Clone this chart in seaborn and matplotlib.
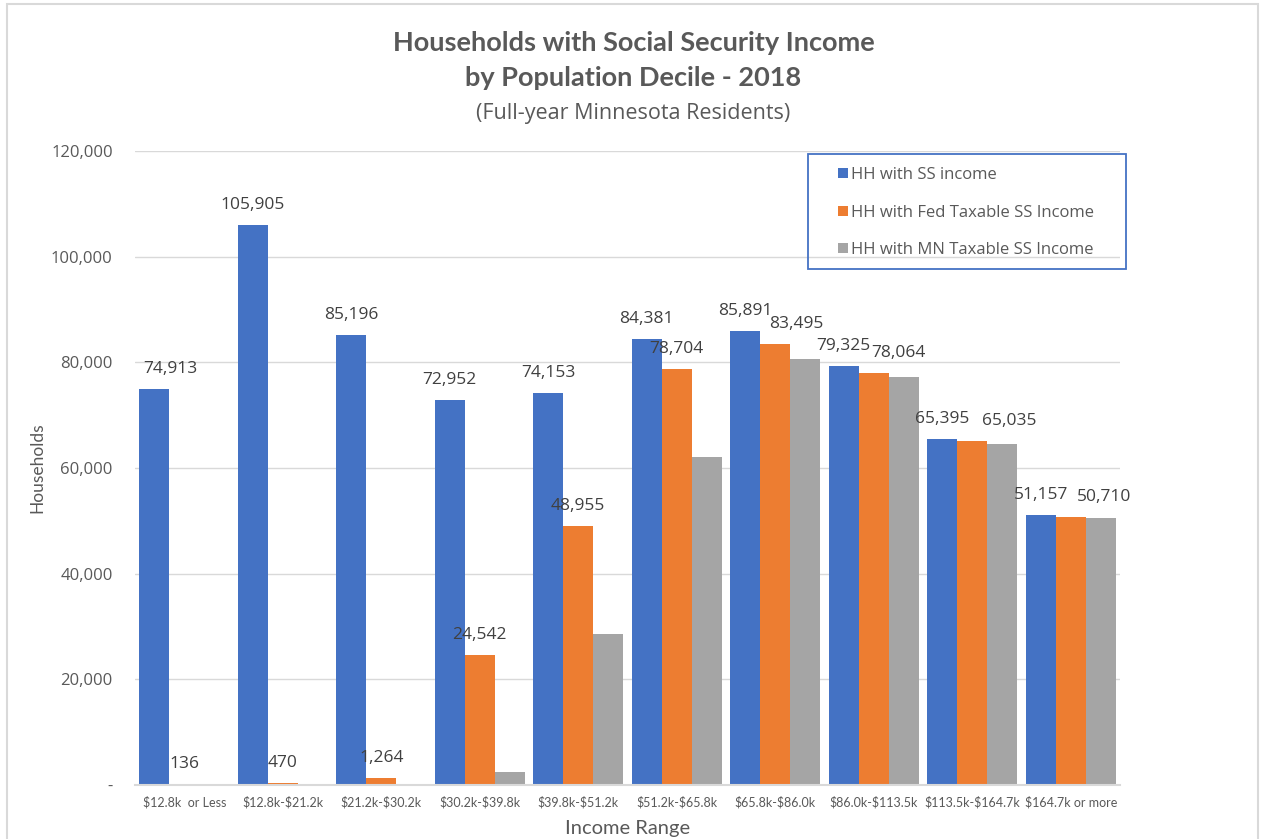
import pandas as pd
import seaborn as sns
import matplotlib.pyplot as plt
from matplotlib.patches import Rectangle

# data
categories = ["$12.8k  or Less", "$12.8k-$21.2k", "$21.2k-$30.2k", "$30.2k-$39.8k",
              "$39.8k-$51.2k", "$51.2k-$65.8k", "$65.8k-$86.0k", "$86.0k-$113.5k",
              "$113.5k-$164.7k", "$164.7k or more"]
hh_ss = [74913, 105905, 85196, 72952, 74153, 84381, 85891, 79325, 65395, 51157]
hh_fed = [136, 470, 1264, 24542, 48955, 78704, 83495, 78064, 65035, 50710]
hh_mn = [30, 200, 250, 2450, 28600, 62100, 80550, 77200, 64550, 50450]  # no labels, estimated
series = ["HH with SS income", "HH with Fed Taxable SS Income", "HH with MN Taxable SS Income"]
colors = ["#4472C4", "#ED7D31", "#A5A5A5"]


def run():
    sns.set_style("white")
    plt.rcParams["font.family"] = ["Lato", "DejaVu Sans"]
    plt.rcParams["text.parse_math"] = False
    osans = ["Open Sans", "DejaVu Sans"]

    df = pd.DataFrame({
        "range": categories * 3,
        "households": hh_ss + hh_fed + hh_mn,
        "series": [s for s in series for _ in categories],
    })

    fig = plt.figure(figsize=(12.67, 8.39), dpi=100)
    W, H = 1267, 839
    ax = fig.add_axes([135 / W, 1 - 785 / H, (1120 - 135) / W, (785 - 151) / H])

    sns.barplot(data=df, x="range", y="households", hue="series", hue_order=series,
                palette=colors, width=0.91, saturation=1, linewidth=0, ax=ax)

    ax.set_ylim(0, 120000)
    ax.set_yticks(range(0, 120001, 20000))
    ax.set_yticklabels(["-"] + [f"{v:,}" for v in range(20000, 120001, 20000)],
                       fontsize=12, color="#595959", family=osans)
    ax.tick_params(axis="y", length=0, pad=16)
    ax.tick_params(axis="x", length=0, pad=8, labelsize=9, labelcolor="#595959")
    ax.grid(axis="y", color="#D9D9D9", linewidth=1)
    ax.set_axisbelow(True)
    for side in ["top", "right", "left"]:
        ax.spines[side].set_visible(False)
    ax.spines["bottom"].set_color("#D9D9D9")
    ax.spines["bottom"].set_linewidth(1.5)

    ax.set_xlabel("Income Range", fontsize=14.5, color="#595959", labelpad=8)
    ax.set_ylabel("Households", fontsize=12.5, color="#595959", labelpad=4)

    # data labels on the first two series (some nudged sideways like the original)
    blue_dx = [16, 0, 0, 0, 0, 0, 0, 0, 0, 0]
    orange_dx = [0, 0, 0, 0, 0, 0, 21, 25, 37, 33]
    for cont, offs in zip(ax.containers[:2], [blue_dx, orange_dx]):
        for bar, dx in zip(cont, offs):
            v = bar.get_height()
            ax.annotate(f"{int(v):,}", xy=(bar.get_x() + bar.get_width() / 2, v),
                        xytext=(dx, 20), textcoords="offset pixels",
                        ha="center", va="center", fontsize=12.5, color="#404040",
                        family=osans)

    # legend in a blue box at the top right
    handles, labels = ax.get_legend_handles_labels()
    ax.legend(handles, labels, loc="upper left",
              bbox_to_anchor=(830 / W, 1 - 159 / H), bbox_transform=fig.transFigure,
              frameon=False, borderpad=0, handlelength=0.55, handleheight=0.55,
              handletextpad=0.2, labelspacing=1.28, labelcolor="#595959",
              prop={"family": osans, "size": 12})
    fig.patches.append(Rectangle((808 / W, 1 - 269 / H), (1126 - 808) / W, (269 - 154) / H,
                                 transform=fig.transFigure, fill=False,
                                 edgecolor="#4472C4", linewidth=1.3))

    # outer chart border
    fig.patches.append(Rectangle((7 / W, -0.01), (1258 - 7) / W, 1 - 4 / H + 0.01,
                                 transform=fig.transFigure, fill=False,
                                 edgecolor="#D9D9D9", linewidth=1.5))

    fig.text(0.5, 1 - 43 / H, "Households with Social Security Income", ha="center",
             va="center", fontsize=19.5, fontweight="bold", color="#595959")
    fig.text(0.5, 1 - 78 / H, "by Population Decile - 2018", ha="center",
             va="center", fontsize=19.5, fontweight="bold", color="#595959")
    fig.text(0.5, 1 - 113 / H, "(Full-year Minnesota Residents)", ha="center",
             va="center", fontsize=15.5, color="#595959", family=osans)

    fig.savefig("out.png", dpi=100)


if __name__ == "__main__":
    run()
